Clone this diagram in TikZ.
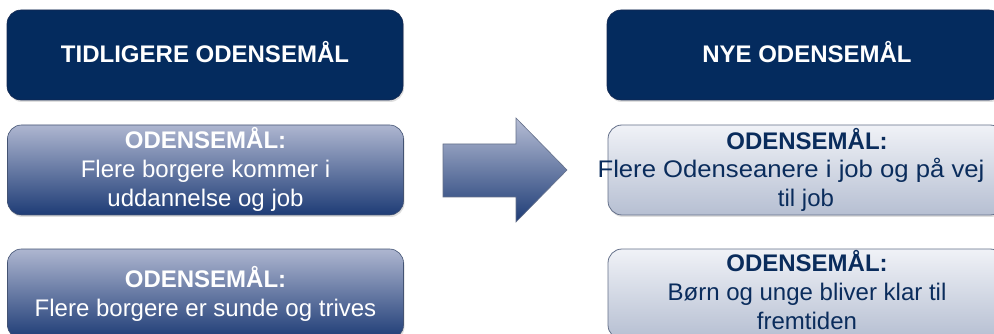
\documentclass[tikz,border=0pt]{standalone}
\usepackage{fontspec}
\setmainfont{Liberation Sans}
\usetikzlibrary{shadows}
\definecolor{navy}{RGB}{4,43,94}
\definecolor{navyedge}{RGB}{20,40,80}
\definecolor{ltop}{RGB}{174,182,208}
\definecolor{lbot}{RGB}{30,60,118}
\definecolor{rtop}{RGB}{240,242,247}
\definecolor{rbot}{RGB}{182,191,210}
\definecolor{redge}{RGB}{100,112,138}
\definecolor{rtext}{RGB}{10,44,92}
\tikzset{
  x=1pt, y=-1pt,
  every node/.style={inner sep=0pt, outer sep=0pt},
  boxbase/.style={rectangle, rounded corners=14pt, minimum width=396pt, minimum height=90pt,
    drop shadow={opacity=0.25, shadow xshift=1pt, shadow yshift=-2pt}},
  headbox/.style={boxbase, fill=navy, draw=navyedge, line width=0.6pt},
  leftbox/.style={boxbase, top color=ltop, bottom color=lbot, draw=navyedge!80, line width=0.6pt},
  rightbox/.style={boxbase, top color=rtop, bottom color=rbot, draw=redge, line width=0.8pt},
  headtxt/.style={anchor=base, text=white, font=\fontsize{24}{29}\selectfont\bfseries},
  ltitle/.style={anchor=base, text=white, font=\fontsize{24}{29}\selectfont\bfseries},
  ltxt/.style={anchor=base, text=white, font=\fontsize{24}{29}\selectfont},
  rtitle/.style={anchor=base, text=rtext, font=\fontsize{24}{29}\selectfont\bfseries},
  rtxt/.style={anchor=base, text=rtext, font=\fontsize{24}{29}\selectfont},
}
\begin{document}
\begin{tikzpicture}
\useasboundingbox (0,0) rectangle (994,334);
\clip (0,0) rectangle (994,334);
\fill[white] (0,0) rectangle (994,334);

% left column
\node[headbox] (lh) at (205,55) {};
\node[headtxt] (lht) at (205,63) {TIDLIGERE ODENSEMÅL};
\node[leftbox] (l1) at (205.5,170) {};
\node[ltitle] (l1a) at (205.5,149) {ODENSEMÅL:};
\node[ltxt] (l1b) at (205.5,178) {Flere borgere kommer i};
\node[ltxt] (l1c) at (205.5,207) {uddannelse og job};
\node[leftbox] (l2) at (205.5,294) {};
\node[ltitle] (l2a) at (205.5,287) {ODENSEMÅL:};
\node[ltxt] (l2b) at (205.5,316) {Flere borgere er sunde og trives};

% arrow
\path[top color=ltop!90, bottom color=lbot, draw=redge, line width=0.6pt]
  (443,144) -- (516,144) -- (516,118) -- (567,170) -- (516,222) -- (516,197) -- (443,197) -- cycle;

% right column
\node[headbox] (rh) at (805,55) {};
\node[headtxt] (rht) at (807,63) {NYE ODENSEMÅL};
\node[rightbox] (r1) at (806,170) {};
\node[rtitle] (r1a) at (807,150) {ODENSEMÅL:};
\node[rtxt, xscale=1.07] (r1b) at (791,178) {Flere Odenseanere i job og på vej};
\node[rtxt] (r1c) at (806,207) {til job};
\node[rightbox] (r2) at (806,294) {};
\node[rtitle] (r2a) at (807,271) {ODENSEMÅL:};
\node[rtxt] (r2b) at (807,300) {Børn og unge bliver klar til};
\node[rtxt] (r2c) at (807,329) {fremtiden};
\end{tikzpicture}
\end{document}
